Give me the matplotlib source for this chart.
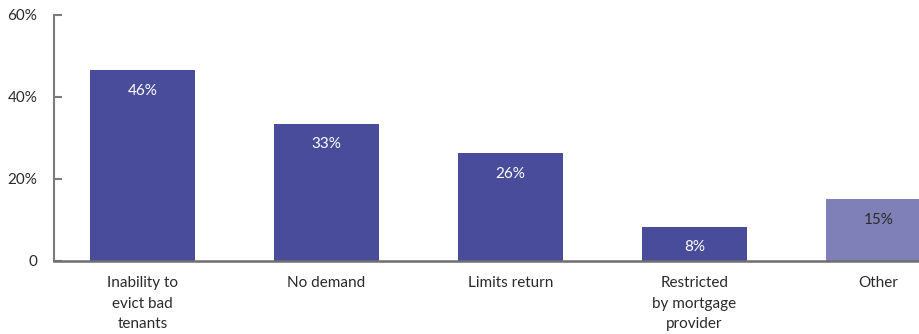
import matplotlib
matplotlib.use('Agg')
import matplotlib.pyplot as plt

# Data
categories = ['Inability to\nevict bad\ntenants', 'No demand', 'Limits return',
              'Restricted\nby mortgage\nprovider', 'Other']
values = [46.5, 33.5, 26.3, 8.4, 15.1]
value_labels = ['46%', '33%', '26%', '8%', '15%']
bar_colors = ['#484c9a', '#484c9a', '#484c9a', '#484c9a', '#8080b9']
label_colors = ['white', 'white', 'white', 'white', '#2a2a2a']
y_ticks = [0, 20, 40, 60]
y_tick_labels = ['0', '20%', '40%', '60%']

plt.rcParams['font.family'] = ['Lato', 'DejaVu Sans']

fig = plt.figure(figsize=(9.2, 3.34), dpi=100)
ax = fig.add_axes([0.0587, 0.2186, 0.9413, 0.7365])

x = list(range(len(categories)))
bars = ax.bar(x, values, width=0.57, color=bar_colors)

# Value labels inside the bars, near the top
for xi, v, lab, c in zip(x, values, value_labels, label_colors):
    ax.annotate(lab, (xi, v), xytext=(0, -15), textcoords='offset points',
                ha='center', va='center', color=c, fontsize=11)

ax.set_xlim(-0.481, 4.226)
ax.set_ylim(0, 60)
ax.set_yticks(y_ticks)
ax.set_yticklabels(y_tick_labels)
ax.set_xticks(x)
ax.set_xticklabels(categories, linespacing=1.6)

for s in ['top', 'right']:
    ax.spines[s].set_visible(False)
ax.spines['left'].set_color('#7a7a7a')
ax.spines['left'].set_linewidth(1.5)
ax.spines['bottom'].set_color('#6e6e6e')
ax.spines['bottom'].set_linewidth(1.8)

ax.tick_params(axis='y', direction='in', length=6, width=1.5, color='#7a7a7a',
               labelsize=11, labelcolor='#2a2a2a', pad=12)
ax.tick_params(axis='x', length=0, labelsize=11, labelcolor='#2a2a2a', pad=11)

fig.savefig('out.png', dpi=100)
